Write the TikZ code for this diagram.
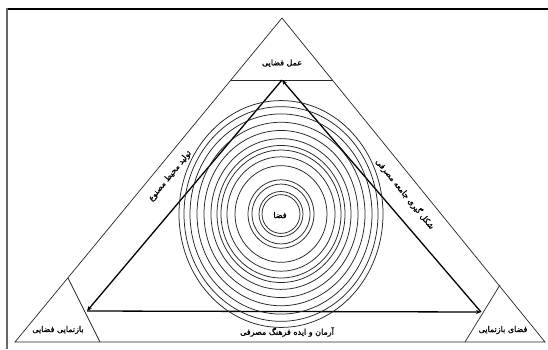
\documentclass[tikz,border=0pt]{standalone}
\usepackage{fontspec}
\newfontfamily\arabicfont[Script=Arabic,FakeBold=1.2]{DejaVu Sans}
\TeXXeTstate=1
\usetikzlibrary{arrows.meta}
\tikzset{
  lab/.style={font=\arabicfont\fontsize{8}{9}\selectfont, inner sep=1pt},
  outerline/.style={draw=black!85, line width=0.7pt},
  innerline/.style={draw=black, line width=1.3pt},
  ringline/.style={draw=black!85, line width=0.75pt},
  tip/.style={-{Stealth[length=5pt,width=4pt]}},
}
\begin{document}
\begin{tikzpicture}[x=1pt,y=-1pt]
\useasboundingbox (0,0) rectangle (548,349);
\fill[white] (0,0) rectangle (548,349);
% frame
\draw[line width=2.6pt, black] (6,9) -- (548,9);
\draw[line width=1.8pt, black!60] (7,8) -- (7,349);
% outer triangle
\coordinate (A) at (282,18);
\coordinate (L) at (15,342);
\coordinate (R) at (545,342);
\draw[outerline] (L) -- (A) -- (R) -- cycle;
% corner dividers
\coordinate (tl) at (231,80);
\coordinate (tr) at (333,80);
\draw[outerline] (tl) -- (tr);
\coordinate (ll1) at (68,278);
\coordinate (ll2) at (100,342);
\draw[outerline] (ll1) -- (ll2);
\coordinate (rr1) at (500,285);
\coordinate (rr2) at (465,342);
\draw[outerline] (rr1) -- (rr2);
% inner triangle
\coordinate (iA) at (282,80);
\coordinate (iL) at (87,311);
\coordinate (iR) at (481,312);
\draw[innerline, tip] (iA) -- (iL);
\draw[innerline, tip] (iL) -- (iR);
\draw[innerline, tip] (iR) -- (iA);
% rings
\coordinate (ctr) at (281,214);
\foreach \r [evaluate=\r as \ry using \r*(1+0.0011*\r)] in {19,22,29,33,46,54,60,64,70,77,84,91,97,102}
  \draw[ringline] (ctr) ellipse[x radius=\r pt, y radius=\ry pt];
% labels
\node[lab] (center) at (280,215) {\beginR فضا\endR};
\node[lab] (top) at (282,63) {\beginR عمل فضایی\endR};
\node[lab] (bl) at (58,330) {\beginR بازنمایی فضایی\endR};
\node[lab] (br) at (503,330) {\beginR فضای بازنمایی\endR};
\node[lab] (bottom) at (287,332) {\beginR آرمان و ایده فرهنگ مصرفی\endR};
\node[lab, rotate=50.7] (left) at (170,176) {\beginR تولید محیط مصنوع\endR};
\node[lab, rotate=-50.9] (right) at (405,194) {\beginR شکل گیری جامعه مصرفی\endR};
\end{tikzpicture}
\end{document}
